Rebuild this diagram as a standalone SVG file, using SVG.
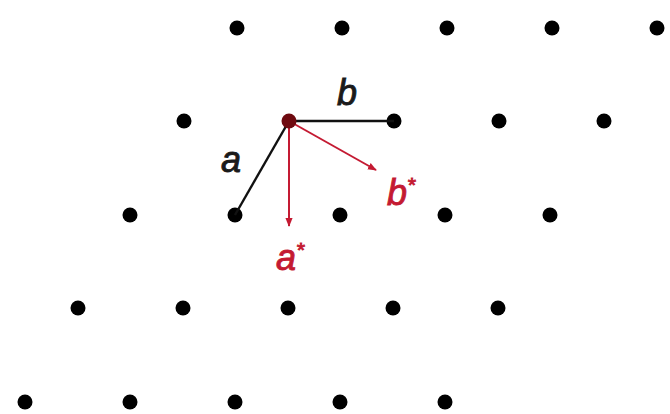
<svg xmlns="http://www.w3.org/2000/svg" width="670" height="414" viewBox="0 0 670 414">
<style>
.dot{fill:#000}
.lbl{font-family:"Liberation Sans",Arial,sans-serif;font-style:italic;font-size:36px;stroke-width:0.9}
.sup{font-size:21px}
.k{fill:#1a1a1a;stroke:#1a1a1a}
.r{fill:#c41a32;stroke:#c41a32}
.vec{stroke:#111;stroke-width:2.4;fill:none}
.rec{stroke:#c41a32;stroke-width:2;fill:none}
</style>
<defs>
<marker id="ah" viewBox="0 0 10 10" refX="9" refY="5" markerWidth="4.5" markerHeight="4.5" orient="auto" markerUnits="strokeWidth">
<path d="M0,1 L10,5 L0,9 z" fill="#c41a32"/>
</marker>
</defs>
<rect width="670" height="414" fill="#fff"/>
<g id="lattice">
<g id="row1"><circle class="dot" cx="237" cy="28" r="7.5"/><circle class="dot" cx="342" cy="28" r="7.5"/><circle class="dot" cx="447" cy="28" r="7.5"/><circle class="dot" cx="552" cy="28" r="7.5"/><circle class="dot" cx="657" cy="28" r="7.5"/></g>
<g id="row2"><circle class="dot" cx="184" cy="121" r="7.5"/><circle class="dot" cx="394" cy="121" r="7.5"/><circle class="dot" cx="499" cy="121" r="7.5"/><circle class="dot" cx="604" cy="121" r="7.5"/></g>
<g id="row3"><circle class="dot" cx="130" cy="215" r="7.5"/><circle class="dot" cx="235" cy="215" r="7.5"/><circle class="dot" cx="340" cy="215" r="7.5"/><circle class="dot" cx="445" cy="215" r="7.5"/><circle class="dot" cx="550" cy="215" r="7.5"/></g>
<g id="row4"><circle class="dot" cx="78" cy="308" r="7.5"/><circle class="dot" cx="183" cy="308" r="7.5"/><circle class="dot" cx="288" cy="308" r="7.5"/><circle class="dot" cx="393" cy="308" r="7.5"/><circle class="dot" cx="498" cy="308" r="7.5"/></g>
<g id="row5"><circle class="dot" cx="25" cy="402" r="7.5"/><circle class="dot" cx="130" cy="402" r="7.5"/><circle class="dot" cx="235" cy="402" r="7.5"/><circle class="dot" cx="340" cy="402" r="7.5"/><circle class="dot" cx="445" cy="402" r="7.5"/></g>
</g>
<g id="connectors">
<line class="vec" x1="289" y1="121" x2="394" y2="121"/>
<line class="vec" x1="289" y1="121" x2="235" y2="215"/>
<line class="rec" x1="289" y1="121" x2="289" y2="226" marker-end="url(#ah)"/>
<line class="rec" x1="289" y1="121" x2="376" y2="170" marker-end="url(#ah)"/>
</g>
<g id="origin"><circle cx="289" cy="121" r="7.5" fill="#6e0a10"/></g>
<g id="labels">
<text class="lbl k" x="231" y="172" text-anchor="middle">a</text>
<text class="lbl k" x="347" y="105" text-anchor="middle">b</text>
<text class="lbl r" x="276" y="270">a<tspan class="sup" dy="-13">*</tspan></text>
<text class="lbl r" x="387" y="205">b<tspan class="sup" dy="-13">*</tspan></text>
</g>
</svg>
